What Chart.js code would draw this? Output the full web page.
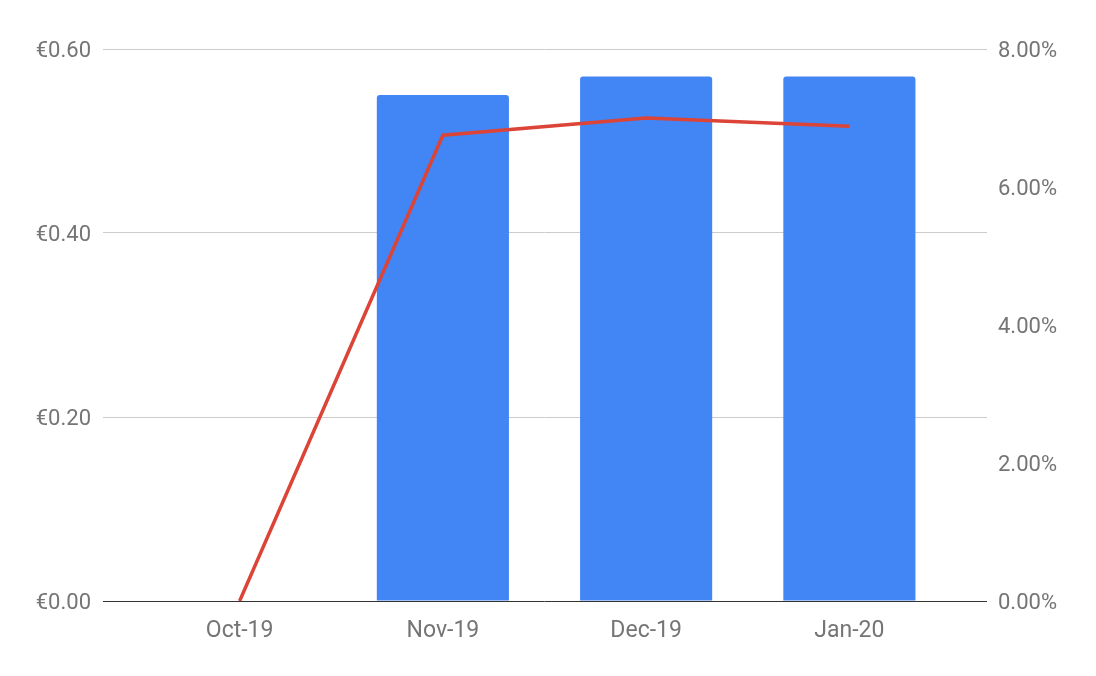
<!DOCTYPE html>
<html>
<head>
<meta charset="utf-8">
<script src="https://cdn.jsdelivr.net/npm/chart.js@4"></script>
<style>
  html, body { margin: 0; padding: 0; background: #fff; }
  #wrap { width: 1096px; height: 676px; }
</style>
</head>
<body>
<div id="wrap"><canvas id="myChart"></canvas></div>
<script>
var months = ['Oct-19', 'Nov-19', 'Dec-19', 'Jan-20'];
var priceValues = [0, 0.55, 0.57, 0.57];
var rateValues = [0, 6.75, 7.0, 6.88];
var priceTicks = [0, 0.2, 0.4, 0.6];
var rateTicks = [0, 2, 4, 6, 8];

var gridColor = function (ctx) {
    return ctx.tick && ctx.tick.value === 0 ? '#333333' : '#cccccc';
};
var labelFont = { family: 'Roboto', size: 22 };

var ctx = document.getElementById('myChart').getContext('2d');
var chart = new Chart(ctx, {
    type: 'bar',
    data: {
        labels: months,
        datasets: [{
            type: 'line',
            label: 'Rate',
            data: rateValues,
            yAxisID: 'yRight',
            borderColor: '#db4437',
            borderWidth: 3.5,
            pointRadius: 0,
            tension: 0,
            order: 0
        },
        {
            label: 'Price',
            data: priceValues,
            yAxisID: 'yLeft',
            backgroundColor: '#4285f4',
            borderRadius: { topLeft: 3, topRight: 3 },
            borderSkipped: false,
            barPercentage: 1,
            categoryPercentage: 0.65,
            order: 1
        }]
    },
    options: {
        responsive: true,
        maintainAspectRatio: false,
        animation: false,
        layout: { padding: { top: 49, left: 0, right: 0, bottom: 0 } },
        plugins: {
            legend: { display: false },
            tooltip: { enabled: false }
        },
        scales: {
            x: {
                offset: true,
                grid: { display: false },
                border: { display: false },
                ticks: {
                    color: '#757575',
                    font: { family: 'Roboto', size: 23 },
                    padding: 8
                },
                afterFit: function (s) { s.height = 75; }
            },
            yLeft: {
                position: 'left',
                min: 0,
                max: 0.6,
                afterBuildTicks: function (s) {
                    s.ticks = priceTicks.map(function (v) { return { value: v }; });
                },
                grid: { color: gridColor, tickLength: 35, drawTicks: true },
                border: { display: false },
                ticks: {
                    color: '#757575',
                    font: labelFont,
                    padding: 12,
                    labelOffset: 2,
                    callback: function (v) { return '€' + Number(v).toFixed(2); }
                },
                afterFit: function (s) { s.width = 138; }
            },
            // carries the left gridlines out to the right edge
            yGridRight: {
                position: 'right',
                weight: 0,
                min: 0,
                max: 0.6,
                afterBuildTicks: function (s) {
                    s.ticks = priceTicks.map(function (v) { return { value: v }; });
                },
                grid: { color: gridColor, drawOnChartArea: false, tickLength: 36, drawTicks: true },
                border: { display: false },
                ticks: { padding: 0, callback: function () { return ''; } },
                afterFit: function (s) { s.width = 36; }
            },
            yRight: {
                position: 'right',
                weight: 1,
                min: 0,
                max: 8,
                afterBuildTicks: function (s) {
                    s.ticks = rateTicks.map(function (v) { return { value: v }; });
                },
                grid: { display: false, drawTicks: false },
                border: { display: false },
                ticks: {
                    color: '#757575',
                    font: labelFont,
                    padding: 11,
                    labelOffset: 2,
                    callback: function (v) { return Number(v).toFixed(2) + '%'; }
                },
                afterFit: function (s) { s.width = 109; }
            }
        }
    }
});
</script>
</body>
</html>
